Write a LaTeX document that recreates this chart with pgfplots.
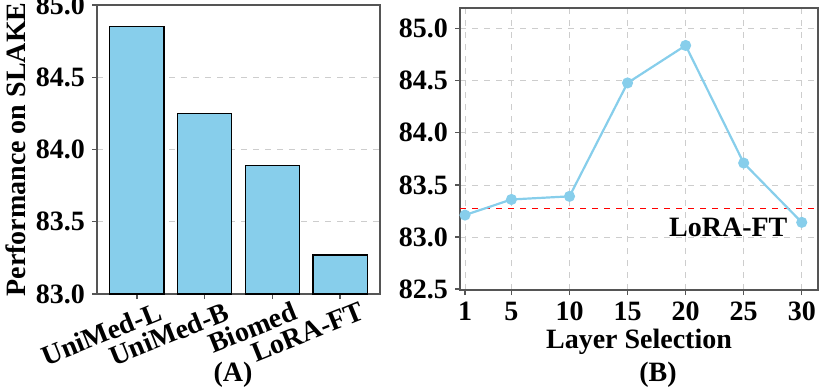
\documentclass[border=0pt]{standalone}
\usepackage{pgfplots}
\pgfplotsset{compat=1.18}
\usepackage{fontspec}
\setmainfont{Liberation Serif}
\definecolor{SkyBlue}{RGB}{135,206,235}
\definecolor{GridGray}{RGB}{205,205,205}
\definecolor{AxisGray}{RGB}{85,85,85}

\pgfplotsset{
  panel/.style={
    scale only axis,
    axis line style={AxisGray, line width=0.6pt},
    tick style={AxisGray, line width=0.6pt},
    tick align=outside,
    major tick length=2.5pt,
    xtick pos=bottom, ytick pos=left,
    tick label style={font=\bfseries\fontsize{14}{14}\selectfont},
    label style={font=\bfseries\fontsize{14}{16}\selectfont},
    /pgf/number format/assume math mode=true,
    yticklabel style={/pgf/number format/.cd, fixed, fixed zerofill, precision=1},
    major grid style={GridGray, dashed, line width=0.4pt},
  }
}

\begin{document}
\begin{tikzpicture}
% (A) bar chart
\begin{axis}[panel,
  at={(48.5pt,-147pt)}, anchor=south west,
  width=141.5pt, height=144.5pt,
  xmin=-0.59, xmax=3.59,
  ymin=83, ymax=85,
  ytick={83,83.5,84,84.5,85},
  ymajorgrids,
  xtick={0,1,2,3},
  xticklabels={UniMed-L,UniMed-B,Biomed,LoRA-FT},
  xticklabel style={rotate=22, anchor=north east, xshift=12pt, yshift=-1pt},
  ylabel={Performance on SLAKE},
  ylabel style={yshift=-2pt},
]
\addplot[ybar, bar width=0.8, fill=SkyBlue, draw=black, line width=0.6pt]
  coordinates {(0,84.85) (1,84.25) (2,83.89) (3,83.27)};
\end{axis}

% (B) layer selection
\begin{axis}[panel,
  at={(230pt,-145pt)}, anchor=south west,
  width=179pt, height=141pt,
  xmin=0.57, xmax=31.4,
  ymin=82.49, ymax=85.2,
  xtick={1,5,10,15,20,25,30},
  ytick={82.5,83,83.5,84,84.5,85},
  grid=major,
  xlabel={Layer Selection},
  xlabel style={yshift=3pt},
]
\addplot[red, dashed, line width=0.6pt, domain=0.57:31.4, samples=2]
  coordinates {(0.57,83.27) (31.4,83.27)};
\addplot[SkyBlue, line width=1.1pt, mark=*, mark size=2.2pt,
  mark options={fill=SkyBlue, draw=SkyBlue}]
  coordinates {(1,83.21) (5,83.36) (10,83.39) (15,84.48) (20,84.84) (25,83.71) (30,83.14)};
\node[anchor=east, font=\bfseries\fontsize{14}{14}\selectfont, inner sep=0pt]
  at (axis cs:28.8,83.09) {LoRA-FT};
\end{axis}

\node[font=\bfseries\fontsize{14}{14}\selectfont] at (116.5pt,-187.5pt) {(A)};
\node[font=\bfseries\fontsize{14}{14}\selectfont] at (329pt,-187.5pt) {(B)};

\pgfresetboundingbox
\path[use as bounding box] (0pt,0pt) rectangle (414pt,-194.5pt);
\end{tikzpicture}
\end{document}
